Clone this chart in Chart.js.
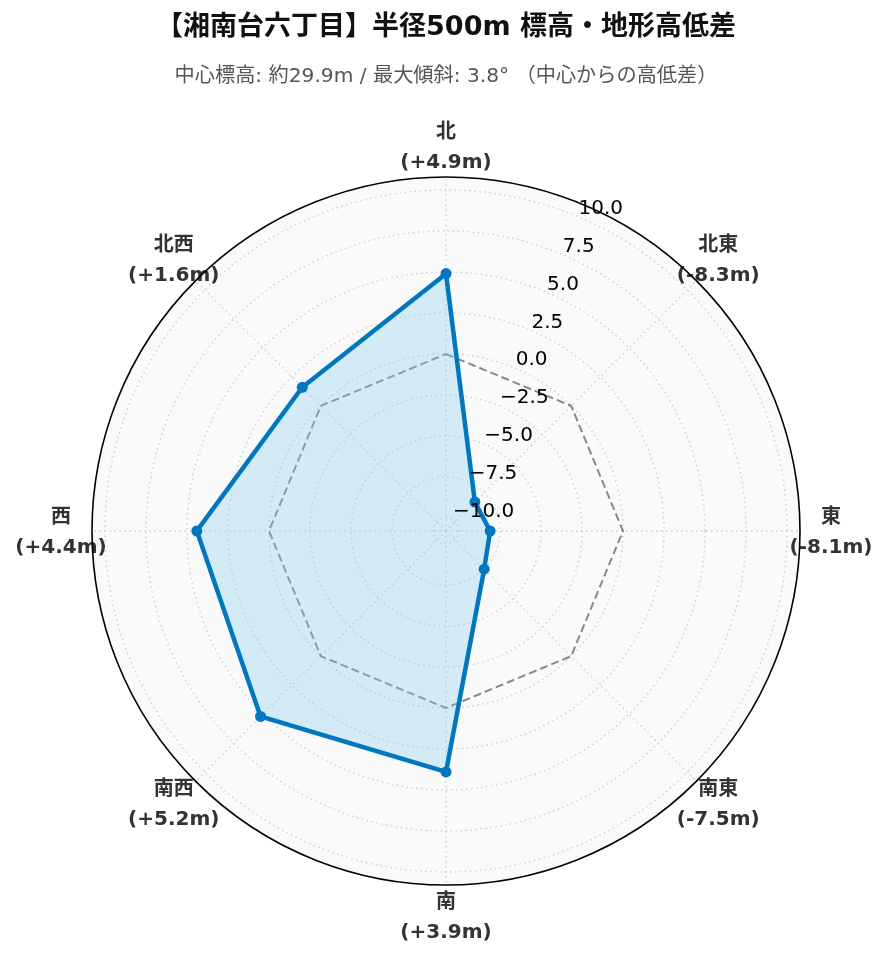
<!DOCTYPE html>
<html>
<head>
<meta charset="utf-8">
<script src="https://cdn.jsdelivr.net/npm/chart.js@4.4.1/dist/chart.umd.min.js"></script>
<style>
html,body{margin:0;padding:0;background:#fff;}
canvas{display:block;}
</style>
</head>
<body>
<canvas id="c" width="889" height="962" style="width:889px;height:962px"></canvas>
<script>
// ---- data ----
const directions = ['北', '北東', '東', '南東', '南', '南西', '西', '北西'];
const elevationDiff = [4.9, -8.3, -8.1, -7.5, 3.9, 5.2, 4.4, 1.6];
const referenceLevel = [0, 0, 0, 0, 0, 0, 0, 0];
const radialTicks = [-10, -7.5, -5, -2.5, 0, 2.5, 5, 7.5, 10];
const titleText = '【湘南台六丁目】半径500m 標高・地形高低差';
const subtitleText = '中心標高: 約29.9m / 最大傾斜: 3.8° （中心からの高低差）';

const maxAbs = Math.max(...elevationDiff.map(Math.abs));
const R_MAX = maxAbs * 1.3;
const R_MIN = -R_MAX;

function fmtDiff(v) { return '(' + (v >= 0 ? '+' : '-') + Math.abs(v).toFixed(1) + 'm)'; }
function fmtTick(v) { return (v < 0 ? '\u2212' : '') + Math.abs(v).toFixed(1); }

const overlay = {
  id: 'overlay',
  beforeDraw(chart) {
    const s = chart.scales.r, ctx = chart.ctx;
    ctx.save();
    ctx.fillStyle = '#fafafa';
    ctx.beginPath();
    ctx.arc(s.xCenter, s.yCenter, s.getDistanceFromCenterForValue(R_MAX), 0, Math.PI * 2);
    ctx.fill();
    ctx.restore();
  },
  afterDatasetsDraw(chart) {
    const s = chart.scales.r, ctx = chart.ctx;
    ctx.save();
    // point labels
    ctx.fillStyle = '#333333';
    ctx.font = 'bold 20px "DejaVu Sans", "Noto Sans CJK JP", sans-serif';
    ctx.textAlign = 'center';
    ctx.textBaseline = 'middle';
    const labR = s.getDistanceFromCenterForValue(R_MAX) + 31;
    directions.forEach((d, i) => {
      const p = s.getPointPosition(i, labR);
      ctx.fillText(d, p.x, p.y - 13);
      ctx.fillText(fmtDiff(elevationDiff[i]), p.x, p.y + 17);
    });
    // outer circle
    ctx.strokeStyle = '#000';
    ctx.lineWidth = 1.6;
    ctx.beginPath();
    ctx.arc(s.xCenter, s.yCenter, s.getDistanceFromCenterForValue(R_MAX), 0, Math.PI * 2);
    ctx.stroke();
    // tick labels at 22.5deg
    ctx.fillStyle = '#000';
    ctx.font = '20px "DejaVu Sans", sans-serif';
    ctx.textAlign = 'left';
    ctx.textBaseline = 'alphabetic';
    const ang = -Math.PI / 2 + Math.PI / 8;
    radialTicks.forEach(v => {
      const r = s.getDistanceFromCenterForValue(v);
      const x = s.xCenter + r * Math.cos(ang);
      const y = s.yCenter + r * Math.sin(ang);
      ctx.fillText(fmtTick(v), x + 2, y - 2);
    });
    ctx.restore();
  }
};

new Chart(document.getElementById('c'), {
  type: 'radar',
  data: {
    labels: directions,
    datasets: [
      {
        label: '高低差',
        data: elevationDiff,
        borderColor: '#0077BE',
        backgroundColor: 'rgba(135,206,240,0.33)',
        borderWidth: 4.5,
        fill: 'start',
        pointRadius: 5.5,
        pointBackgroundColor: '#0077BE',
        pointBorderColor: '#0077BE',
        pointBorderWidth: 0,
        tension: 0,
        order: 1
      },
      {
        label: '中心',
        data: referenceLevel,
        borderColor: '#888888',
        borderWidth: 2,
        borderDash: [8, 4],
        fill: false,
        pointRadius: 0,
        order: 2
      }
    ]
  },
  options: {
    responsive: false,
    animation: false,
    devicePixelRatio: 1,
    layout: { padding: { left: 91, right: 88, top: 0, bottom: 76 } },
    plugins: {
      legend: { display: false },
      tooltip: { enabled: false },
      title: {
        display: true,
        text: titleText,
        color: '#111',
        font: { family: '"DejaVu Sans", "Noto Sans CJK JP", sans-serif', size: 27, weight: 'bold', lineHeight: 1.2 },
        padding: { top: 11.8, bottom: 20.3 }
      },
      subtitle: {
        display: true,
        text: subtitleText,
        color: '#555',
        font: { family: '"DejaVu Sans", "Noto Sans CJK JP", sans-serif', size: 20.2, weight: 'normal', lineHeight: 1.2 },
        padding: { top: 0, bottom: 87.4 }
      }
    },
    scales: {
      r: {
        min: R_MIN,
        max: R_MAX,
        afterBuildTicks(scale) { scale.ticks = radialTicks.map(v => ({ value: v })); },
        ticks: { display: false },
        pointLabels: { display: false },
        grid: { circular: true, color: '#cfcfcf', lineWidth: 1.4 },
        border: { dash: [1.5, 3.5] },
        angleLines: { display: true, color: '#cfcfcf', lineWidth: 1.4, borderDash: [1.5, 3.5] }
      }
    }
  },
  plugins: [overlay]
});
</script>
</body>
</html>
